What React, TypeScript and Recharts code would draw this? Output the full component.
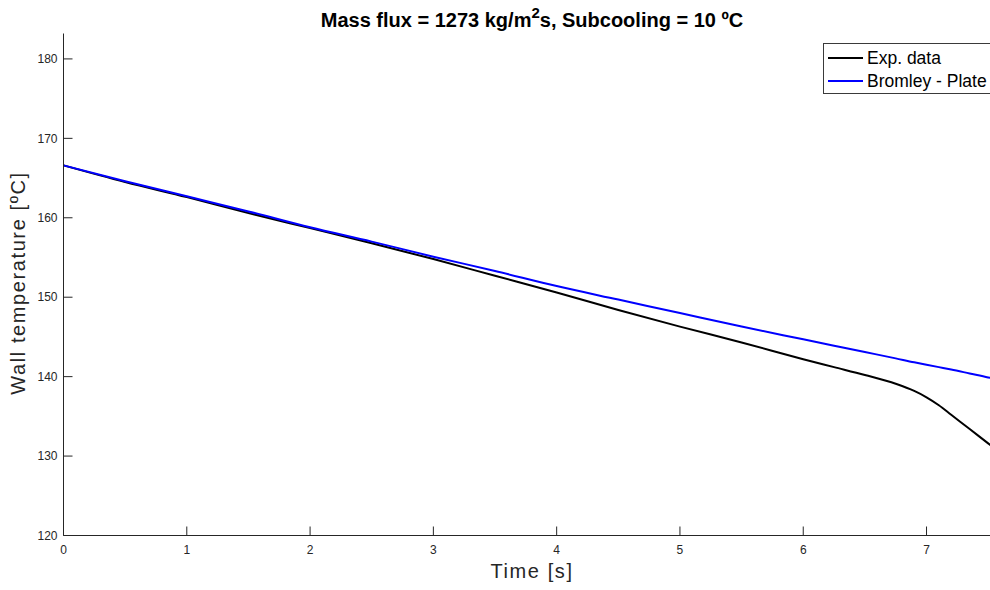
import React from 'react';
import { LineChart, Line, XAxis, YAxis } from 'recharts';

const times = [0, 0.5, 1, 1.5, 2, 2.5, 3, 3.5, 4, 4.5, 5, 5.5, 6, 6.25, 6.5, 6.75, 6.9, 7, 7.1, 7.2, 7.35, 7.5, 7.6];
const expData = [166.6, 164.5, 162.6, 160.6, 158.7, 156.8, 154.8, 152.7, 150.6, 148.4, 146.3, 144.3, 142.2, 141.2, 140.2, 139.1, 138.2, 137.4, 136.4, 135.2, 133.4, 131.6, 130.4];
const bromleyPlate = [166.6, 164.6, 162.7, 160.8, 158.8, 157.0, 155.1, 153.3, 151.4, 149.7, 148.0, 146.3, 144.7, 143.9, 143.1, 142.3, 141.8, 141.5, 141.2, 140.9, 140.4, 139.9, 139.6];
const xTicks = [0, 1, 2, 3, 4, 5, 6, 7];
const yTicks = [120, 130, 140, 150, 160, 170, 180];
const seriesNames = ['Exp. data', 'Bromley - Plate'];
const seriesColors = ['#000000', '#0000ff'];

const data = times.map((t, i) => ({ t, exp: expData[i], bromley: bromleyPlate[i] }));

const font = '"Liberation Sans", Arial, Helvetica, sans-serif';
const axisColor = '#262626';

const LegendBox = () => (
  <div
    style={{
      position: 'absolute',
      left: 823,
      top: 43,
      width: 200,
      height: 49,
      border: '1px solid #3a3a3a',
      background: '#fff',
      fontFamily: font,
      fontSize: 17.5,
      color: '#000',
    }}
  >
    {seriesNames.map((name, i) => (
      <div key={name} style={{ position: 'absolute', left: 4, top: 3 + i * 23, height: 22, display: 'flex', alignItems: 'center' }}>
        <div style={{ width: 35, height: 2, background: seriesColors[i], marginRight: 4 }} />
        <span style={{ lineHeight: '22px' }}>{name}</span>
      </div>
    ))}
  </div>
);

const App: React.FC = () => {
  return (
    <div style={{ position: 'fixed', left: 0, top: 0, width: 990, height: 590, overflow: 'hidden', background: '#fff' }}>
      <div style={{ position: 'relative', width: 1010, height: 590 }}>
        <LineChart
          width={1010}
          height={590}
          data={data}
          margin={{ top: 33.5, right: 9.5, bottom: 24.5, left: 23.5 }}
        >
          <XAxis
            dataKey="t"
            type="number"
            domain={[0, 7.6]}
            allowDataOverflow
            ticks={xTicks}
            height={30}
            tickSize={-9}
            tickMargin={18.5}
            axisLine={{ stroke: axisColor, strokeWidth: 1 }}
            tickLine={{ stroke: axisColor, strokeWidth: 1 }}
            tick={{ fill: axisColor, fontSize: 12, fontFamily: font }}
          />
          <XAxis
            xAxisId="top"
            orientation="top"
            type="number"
            domain={[0, 7.6]}
            allowDataOverflow
            ticks={xTicks}
            height={0}
            tickSize={-9}
            tick={false}
            axisLine={{ stroke: axisColor, strokeWidth: 1 }}
            tickLine={{ stroke: axisColor, strokeWidth: 1 }}
          />
          <YAxis
            type="number"
            domain={[120, 183.2]}
            allowDataOverflow
            ticks={yTicks}
            width={40}
            tickSize={-9}
            tickMargin={15}
            axisLine={{ stroke: axisColor, strokeWidth: 1 }}
            tickLine={{ stroke: axisColor, strokeWidth: 1 }}
            tick={{ fill: axisColor, fontSize: 12, fontFamily: font }}
          />
          <Line
            type="monotone"
            dataKey="exp"
            name={seriesNames[0]}
            stroke={seriesColors[0]}
            strokeWidth={2}
            dot={false}
            isAnimationActive={false}
          />
          <Line
            type="monotone"
            dataKey="bromley"
            name={seriesNames[1]}
            stroke={seriesColors[1]}
            strokeWidth={2}
            dot={false}
            isAnimationActive={false}
          />
        </LineChart>

        <div
          style={{
            position: 'absolute',
            left: 532,
            top: 10,
            transform: 'translateX(-50%)',
            whiteSpace: 'nowrap',
            fontFamily: font,
            fontWeight: 'bold',
            fontSize: 20,
            lineHeight: '20px',
            color: '#000',
          }}
        >
          Mass flux = 1273 kg/m<sup style={{ fontSize: 15, lineHeight: 0, verticalAlign: '0.6em' }}>2</sup>s, Subcooling = 10 ºC
        </div>

        <div
          style={{
            position: 'absolute',
            left: 532,
            top: 561,
            transform: 'translateX(-50%)',
            whiteSpace: 'nowrap',
            fontFamily: font,
            fontSize: 20,
            lineHeight: '20px',
            letterSpacing: 1.6,
            color: axisColor,
          }}
        >
          Time [s]
        </div>

        <div
          style={{
            position: 'absolute',
            left: 18.4,
            top: 283,
            transform: 'translate(-50%, -50%) rotate(-90deg)',
            whiteSpace: 'nowrap',
            fontFamily: font,
            fontSize: 20,
            lineHeight: '20px',
            letterSpacing: 1.6,
            color: axisColor,
          }}
        >
          Wall temperature [ºC]
        </div>

        <LegendBox />
      </div>
    </div>
  );
};

export default App;
